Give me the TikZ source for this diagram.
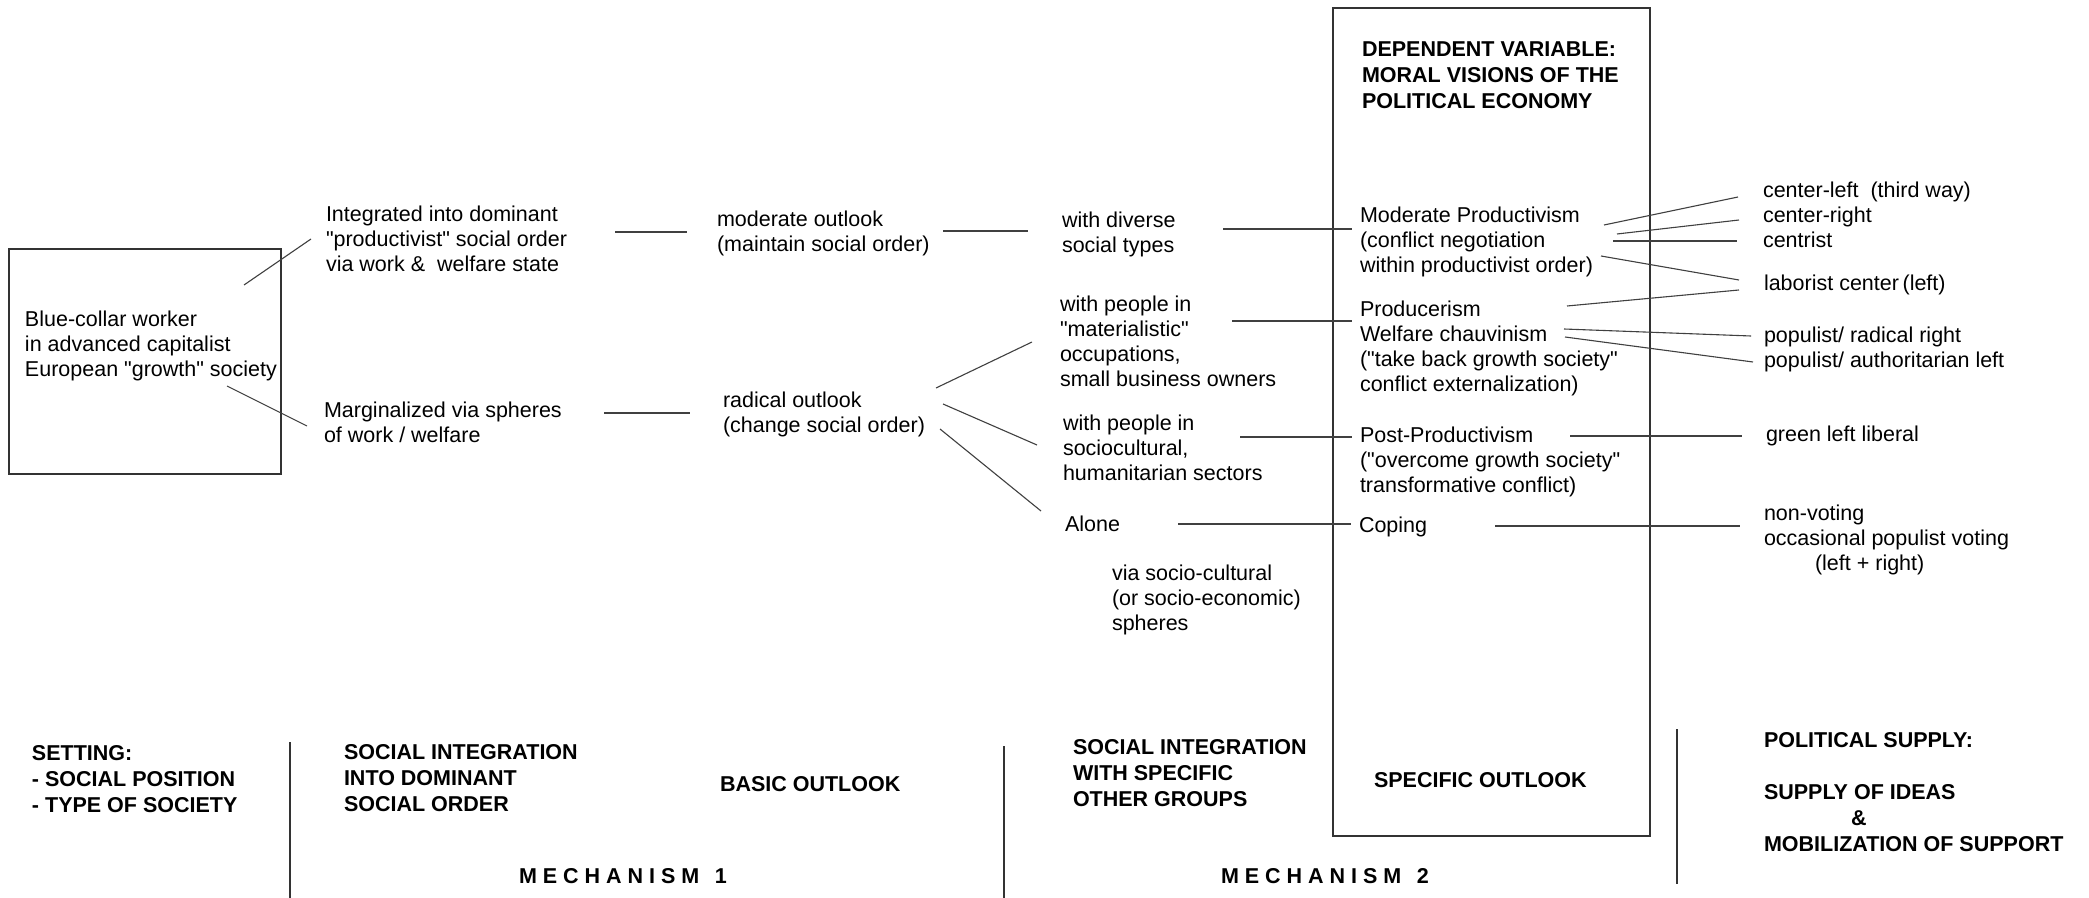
\documentclass[tikz,border=0pt]{standalone}
\usepackage{fontspec}
\setmainfont{Liberation Sans}
\newcommand\normtxt{\fontsize{10.75}{12.4}\selectfont}
\newcommand\headtxt{\fontsize{10.75}{13}\selectfont\bfseries}
\newcommand\mlines[1]{\begin{tabular}[t]{@{}l@{}}#1\end{tabular}}
\newcommand\qq{\textquotedbl}
\tikzset{
  txt/.style={anchor=base west, inner sep=0pt, outer sep=0pt, font=\normtxt},
  hd/.style={anchor=base west, inner sep=0pt, outer sep=0pt, font=\headtxt},
  ln/.style={draw=black!75, line width=0.55pt},
  frame/.style={draw=black!80, line width=0.7pt, inner sep=0pt, outer sep=0pt},
  sep/.style={draw=black!80, line width=0.6pt},
}
\begin{document}
\begin{tikzpicture}[x=0.5pt, y=-0.5pt]
\useasboundingbox[fill=white] (0,0) rectangle (2089,898);

% boxes
\node[frame, minimum width=136pt, minimum height=112.5pt] (leftbox) at (145,361.5) {};
\node[frame, minimum width=158.5pt, minimum height=414pt] (dvbox) at (1491.5,422) {};

% column texts
\node[txt] (boxtext) at (25,327) {\mlines{Blue-collar worker\\ in advanced capitalist\\ European \qq growth\qq{} society}};
\node[txt] (integ) at (326,222) {\mlines{Integrated into dominant\\ \qq productivist\qq{} social order\\ via work \&\ \ welfare state}};
\node[txt] (margin) at (324,418) {\mlines{Marginalized via spheres\\ of work / welfare}};
\node[txt] (moder) at (717,227) {\mlines{moderate outlook\\ (maintain social order)}};
\node[txt] (radic) at (723,408) {\mlines{radical outlook\\ (change social order)}};
\node[txt] (divers) at (1062,228) {\mlines{with diverse\\ social types}};
\node[txt] (mater) at (1060,312) {\mlines{with people in\\ \qq materialistic\qq\\ occupations,\\ small business owners}};
\node[txt] (socio) at (1063,431) {\mlines{with people in\\ sociocultural,\\ humanitarian sectors}};
\node[txt] (alone) at (1065,531) {Alone};
\node[txt] (via) at (1112,581) {\mlines{via socio-cultural\\ (or socio-economic)\\ spheres}};

\node[hd] (dep) at (1362,57) {\mlines{DEPENDENT VARIABLE:\\ MORAL VISIONS OF THE\\ POLITICAL ECONOMY}};
\node[txt] (modprod) at (1360,223) {\mlines{Moderate Productivism\\ (conflict negotiation\\ within productivist order)}};
\node[txt] (producer) at (1360,317) {\mlines{Producerism\\ Welfare chauvinism\\ (\qq take back growth society\qq\\ conflict externalization)}};
\node[txt] (postprod) at (1360,443) {\mlines{Post-Productivism\\ (\qq overcome growth society\qq\\ transformative conflict)}};
\node[txt] (coping) at (1359,532) {Coping};

\node[txt] (cl) at (1763,198) {\mlines{center-left\ \ (third way)\\ center-right\\ centrist}};
\node[txt] (lab) at (1764,291) {laborist center\,(left)};
\node[txt] (pop) at (1764,343) {\mlines{populist/ radical right\\ populist/ authoritarian left}};
\node[txt] (green) at (1766,442) {green left liberal};
\node[txt] (nonvote) at (1764,521) {\mlines{non-voting\\ occasional populist voting\\ \hspace*{25.5pt}(left + right)}};

% bottom labels
\node[hd] (setting) at (32,760) {\mlines{SETTING:\\ - SOCIAL POSITION\\ - TYPE OF SOCIETY}};
\node[hd] (sointeg) at (344,759) {\mlines{SOCIAL INTEGRATION\\ INTO DOMINANT\\ SOCIAL ORDER}};
\node[hd] (basic) at (720,791) {BASIC OUTLOOK};
\node[hd] (mech1) at (519,883) {M E C H A N I S M\ \ \,1};
\node[hd] (sowith) at (1073,754) {\mlines{SOCIAL INTEGRATION\\ WITH SPECIFIC\\ OTHER GROUPS}};
\node[hd] (specific) at (1374,787) {SPECIFIC OUTLOOK};
\node[hd] (mech2) at (1221,883) {M E C H A N I S M\ \ \,2};
\node[hd] (polsup) at (1764,747) {\mlines{POLITICAL SUPPLY:\\ \\ SUPPLY OF IDEAS\\ \hspace*{43.5pt}\&\\ MOBILIZATION OF SUPPORT}};

% separators
\draw[sep] (290,742) -- (290,898);
\draw[sep] (1004,746) -- (1004,898);
\draw[sep] (1677,729) -- (1677,884);

% connector end points
\coordinate (a1) at (244,285);  \coordinate (b1) at (311,239);
\coordinate (a2) at (227,386);  \coordinate (b2) at (307,426);
\coordinate (a3) at (615,232);  \coordinate (b3) at (687,232);
\coordinate (a4) at (604,413);  \coordinate (b4) at (690,413);
\coordinate (a5) at (943,231);  \coordinate (b5) at (1028,231);
\coordinate (a6) at (936,388);  \coordinate (b6) at (1032,342);
\coordinate (a7) at (943,404);  \coordinate (b7) at (1037,445);
\coordinate (a8) at (940,429);  \coordinate (b8) at (1041,511);
\coordinate (a9) at (1223,229); \coordinate (b9) at (1352,229);
\coordinate (a10) at (1232,321); \coordinate (b10) at (1352,321);
\coordinate (a11) at (1240,437); \coordinate (b11) at (1352,437);
\coordinate (a12) at (1178,524); \coordinate (b12) at (1351,524);
\coordinate (a13) at (1604,225); \coordinate (b13) at (1738,197);
\coordinate (a14) at (1617,234); \coordinate (b14) at (1739,220);
\coordinate (a15) at (1613,241); \coordinate (b15) at (1737,241);
\coordinate (a16) at (1601,256); \coordinate (b16) at (1739,280);
\coordinate (a17) at (1567,306); \coordinate (b17) at (1739,290);
\coordinate (a18) at (1564,329); \coordinate (b18) at (1751,336);
\coordinate (a19) at (1565,337); \coordinate (b19) at (1753,362);
\coordinate (a20) at (1570,436); \coordinate (b20) at (1742,436);
\coordinate (a21) at (1495,526); \coordinate (b21) at (1740,526);

\foreach \i in {1,...,21} { \draw[ln] (a\i) -- (b\i); }
\end{tikzpicture}
\end{document}
